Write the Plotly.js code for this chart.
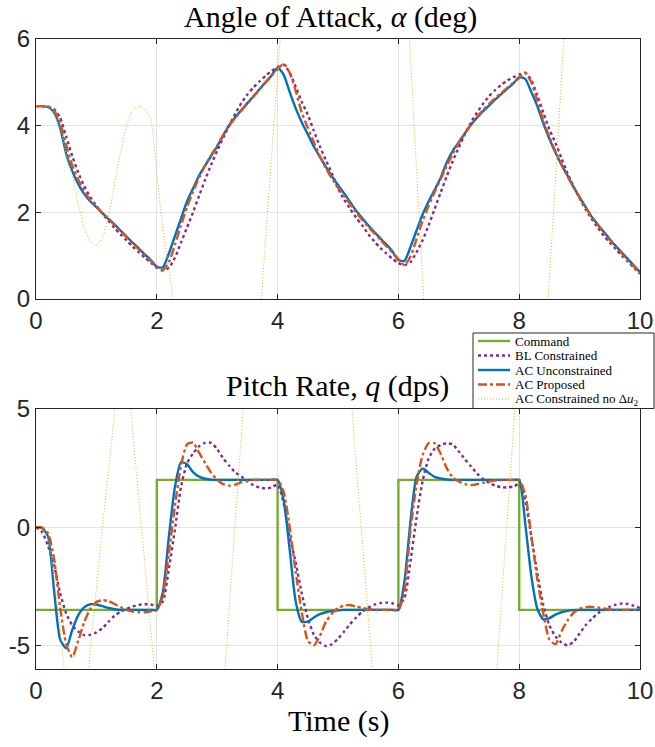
<!DOCTYPE html>
<html>
<head>
<meta charset="utf-8">
<script src="https://cdn.plot.ly/plotly-3.0.1.min.js"></script>
<style>html,body{margin:0;padding:0;background:#fff;}#chart{width:655px;height:747px;}</style>
</head>
<body>
<div id="chart"></div>
<script>
// time grid (s)
const t = [0.0,0.1,0.2,0.3,0.4,0.5,0.6,0.7,0.8,0.9,
1.0,1.1,1.2,1.3,1.4,1.5,1.6,1.7,1.8,1.9,
2.0,2.1,2.2,2.3,2.4,2.5,2.6,2.7,2.8,2.9,
3.0,3.1,3.2,3.3,3.4,3.5,3.6,3.7,3.8,3.9,
4.0,4.1,4.2,4.3,4.4,4.5,4.6,4.7,4.8,4.9,
5.0,5.1,5.2,5.3,5.4,5.5,5.6,5.7,5.8,5.9,
6.0,6.1,6.2,6.3,6.4,6.5,6.6,6.7,6.8,6.9,
7.0,7.1,7.2,7.3,7.4,7.5,7.6,7.7,7.8,7.9,
8.0,8.1,8.2,8.3,8.4,8.5,8.6,8.7,8.8,8.9,
9.0,9.1,9.2,9.3,9.4,9.5,9.6,9.7,9.8,9.9,
10.0];

// Angle of attack (deg)
const alphaBL = [4.45,4.45,4.44,4.38,4.18,3.75,3.30,2.92,2.60,2.35,
2.15,1.97,1.80,1.64,1.49,1.35,1.21,1.08,0.96,0.84,
0.72,0.66,0.72,0.95,1.30,1.65,2.00,2.38,2.75,3.10,
3.42,3.72,4.00,4.28,4.52,4.72,4.88,5.02,5.15,5.26,
5.35,5.41,5.22,4.90,4.55,4.25,3.88,3.52,3.20,2.90,
2.55,2.30,2.08,1.88,1.70,1.50,1.33,1.18,1.05,0.93,
0.83,0.78,0.85,1.08,1.35,1.70,2.08,2.46,2.83,3.18,
3.50,3.80,4.07,4.30,4.50,4.68,4.82,4.94,5.04,5.12,
5.18,5.22,5.05,4.70,4.30,3.92,3.60,3.25,2.90,2.60,
2.32,2.07,1.85,1.65,1.46,1.30,1.15,1.00,0.86,0.72,
0.58];
const alphaACU = [4.45,4.45,4.43,4.30,3.95,3.35,2.95,2.65,2.42,2.25,
2.12,1.98,1.85,1.72,1.58,1.44,1.30,1.17,1.03,0.90,
0.74,0.73,1.05,1.45,1.85,2.25,2.55,2.85,3.08,3.30,
3.52,3.78,4.02,4.20,4.36,4.52,4.68,4.84,5.00,5.16,
5.34,5.18,4.78,4.40,4.08,3.80,3.52,3.28,3.05,2.83,
2.63,2.44,2.24,2.04,1.87,1.70,1.55,1.40,1.26,1.10,
0.90,0.88,1.20,1.58,1.95,2.25,2.52,2.80,3.15,3.42,
3.62,3.82,4.02,4.18,4.33,4.46,4.60,4.72,4.85,4.97,
5.12,5.08,4.78,4.45,4.05,3.70,3.38,3.10,2.85,2.58,
2.35,2.12,1.90,1.72,1.55,1.38,1.22,1.07,0.92,0.77,
0.62];
const alphaACP = [4.45,4.45,4.44,4.35,4.08,3.55,3.08,2.75,2.48,2.28,
2.13,1.98,1.85,1.71,1.57,1.43,1.29,1.15,1.01,0.88,
0.75,0.66,0.85,1.25,1.70,2.12,2.48,2.80,3.08,3.32,
3.54,3.78,4.00,4.18,4.35,4.51,4.67,4.83,4.99,5.15,
5.30,5.43,5.22,4.80,4.30,3.95,3.62,3.30,3.02,2.78,
2.57,2.38,2.19,2.00,1.83,1.67,1.52,1.37,1.22,1.07,
0.92,0.78,0.98,1.38,1.80,2.15,2.47,2.77,3.07,3.35,
3.60,3.82,4.02,4.20,4.36,4.50,4.63,4.75,4.87,4.99,
5.10,5.22,5.00,4.58,4.12,3.74,3.40,3.10,2.83,2.58,
2.34,2.11,1.90,1.71,1.53,1.36,1.20,1.05,0.90,0.75,
0.60];
const alphaNoDu2 = [4.45,4.45,4.42,4.28,3.95,3.35,2.85,2.20,1.65,1.32,
1.23,1.42,1.92,2.65,3.38,4.00,4.35,4.45,4.40,4.15,
2.90,1.62,0.68,-0.30,-1.90,-3.60,-5.30,-6.80,-8.00,-8.70,
-8.90,-8.60,-8.00,-7.00,-5.80,-4.30,-2.50,-0.60,1.35,3.30,
5.20,7.10,9.00,10.8,12.4,13.8,15.0,16.0,16.8,17.4,
17.8,18.0,18.0,17.8,17.4,16.8,16.0,15.0,13.8,12.4,
10.6,8.2,5.6,3.0,0.5,-2.0,-4.4,-6.7,-8.9,-10.9,
-12.7,-14.2,-15.4,-16.3,-16.8,-17.0,-16.8,-16.2,-15.2,-13.8,
-12.0,-9.8,-7.1,-4.4,-1.85,0.45,2.75,5.1,7.4,9.6,
11.7,13.6,15.3,16.8,18.0,19.0,19.7,20.1,20.2,20.0,
19.5];

// Pitch rate (dps)
const cmdT = [0,2,2,4,4,6,6,8,8,10];
const qCmd = [-3.5,-3.5,2,2,-3.5,-3.5,2,2,-3.5,-3.5];
const qBL = [0,-0.2,-0.8,-1.6,-2.8,-3.65,-4.15,-4.42,-4.57,-4.55,
-4.45,-4.28,-4.0,-3.75,-3.57,-3.45,-3.35,-3.29,-3.26,-3.27,
-3.33,-3.15,-1.75,-0.10,1.70,2.70,3.12,3.42,3.57,3.57,
3.30,2.91,2.60,2.32,2.15,1.95,1.78,1.68,1.64,1.68,
1.80,1.00,-0.40,-1.50,-2.80,-3.85,-4.55,-4.88,-5.03,-4.95,
-4.72,-4.42,-4.10,-3.82,-3.58,-3.40,-3.28,-3.21,-3.19,-3.22,
-3.30,-3.00,-1.45,0.40,1.95,2.90,3.32,3.48,3.55,3.50,
3.20,2.88,2.58,2.27,2.05,1.88,1.76,1.69,1.68,1.72,
1.82,1.14,-0.40,-1.95,-3.30,-4.15,-4.62,-4.88,-5.00,-4.85,
-4.50,-4.15,-3.88,-3.65,-3.48,-3.36,-3.28,-3.23,-3.25,-3.33,
-3.42];
const qACU = [0,-0.03,-0.4,-2.7,-4.75,-5.12,-4.35,-3.72,-3.38,-3.26,
-3.27,-3.34,-3.42,-3.47,-3.50,-3.50,-3.50,-3.50,-3.50,-3.50,
-3.50,-2.75,-0.40,1.70,2.75,2.66,2.33,2.14,2.05,2.01,
2.0,2.0,2.0,2.0,2.0,2.0,2.0,2.0,2.0,2.0,
2.0,1.15,-0.95,-3.15,-4.0,-4.0,-3.82,-3.68,-3.60,-3.55,
-3.52,-3.50,-3.50,-3.50,-3.50,-3.50,-3.50,-3.50,-3.50,-3.50,
-3.50,-2.30,0.25,2.13,2.48,2.30,2.13,2.06,2.02,2.0,
2.0,2.0,2.0,2.0,2.0,2.0,2.0,2.0,2.0,2.0,
2.0,0.15,-2.05,-3.45,-3.90,-3.85,-3.70,-3.60,-3.54,-3.51,
-3.50,-3.50,-3.50,-3.50,-3.50,-3.50,-3.50,-3.50,-3.50,-3.50,
-3.50];
const qACP = [0,-0.02,-0.25,-1.35,-3.4,-4.95,-5.5,-4.8,-4.0,-3.45,
-3.16,-3.09,-3.13,-3.25,-3.38,-3.50,-3.57,-3.60,-3.60,-3.56,
-3.50,-2.90,-1.10,0.90,2.60,3.50,3.58,3.15,2.72,2.30,
2.0,1.82,1.76,1.80,1.90,1.96,2.0,2.0,2.0,2.0,
2.0,1.50,0.0,-1.90,-3.60,-4.80,-5.0,-4.60,-4.0,-3.65,
-3.42,-3.32,-3.30,-3.35,-3.42,-3.46,-3.50,-3.50,-3.50,-3.50,
-3.50,-2.70,-0.10,1.80,3.05,3.55,3.55,3.10,2.50,2.10,
1.93,1.82,1.78,1.82,1.88,1.93,1.97,1.99,2.0,2.0,
2.0,1.40,-0.35,-2.20,-3.66,-4.75,-4.95,-4.40,-3.95,-3.62,
-3.45,-3.38,-3.37,-3.40,-3.44,-3.48,-3.50,-3.50,-3.50,-3.50,
-3.50];
const qNoDu2 = [0,-0.05,-0.5,-2.2,-4.3,-6.8,-8.8,-9.6,-8.6,-5.1,
-2.6,0.0,2.4,4.8,7.0,6.6,4.0,1.3,-1.5,-4.3,
-7.1,-10.0,-12.8,-15.0,-16.8,-18.0,-18.5,-18.0,-16.5,-14.0,
-10.8,-7.1,-3.4,0.3,3.9,7.6,11.0,14.0,17.0,19.5,
21.5,23.0,24.0,24.5,24.5,24.0,23.0,21.5,19.5,16.5,
13.5,9.2,6.0,2.7,-0.5,-3.8,-7.0,-10.0,-13.0,-16.0,
-19.0,-21.0,-23.0,-24.5,-25.5,-26.0,-26.0,-25.6,-24.8,-23.5,
-22.0,-20.5,-18.5,-16.3,-13.8,-10.8,-7.1,-3.4,0.3,3.9,
7.6,11.0,14.5,18.0,21.0,24.0,27.0,29.5,31.5,33.0,
34.0,34.5,34.5,34.0,33.0,31.5,29.5,27.0,24.0,20.5,
17.0];

// tick labels
const xTicks = [0,2,4,6,8,10];
const xTickText = ['0','2','4','6','8','10'];
const y1Ticks = [0,2,4,6];
const y1TickText = ['0','2','4','6'];
const y2Ticks = [-5,0,5];
const y2TickText = ['-5','0','5'];

const names = ['Command','BL Constrained','AC Unconstrained','AC Proposed','AC Constrained no &#916;<i>u</i><sub>2</sub>'];
const colors = ['#77AC30','#7E2F8E','#0072BD','#D95319','#EDB120'];
const dashes = ['solid','dot','solid','dashdot','1px,2px'];
const widths = [2.4,2.4,2.4,2.4,1];

function tr(x, y, k, xa, ya, shape){
  return {x:x, y:y, name:names[k], type:'scatter', mode:'lines', xaxis:xa, yaxis:ya,
    showlegend:false, hoverinfo:'skip',
    line:{color:colors[k], width:widths[k], dash:dashes[k], shape:shape||'spline', smoothing:0.6}};
}

const data = [
  tr(t, alphaBL, 1, 'x', 'y'),
  tr(t, alphaACU, 2, 'x', 'y'),
  tr(t, alphaACP, 3, 'x', 'y'),
  tr(t, alphaNoDu2, 4, 'x', 'y'),
  tr(cmdT, qCmd, 0, 'x2', 'y2', 'linear'),
  tr(t, qBL, 1, 'x2', 'y2'),
  tr(t, qACU, 2, 'x2', 'y2'),
  tr(t, qACP, 3, 'x2', 'y2'),
  tr(t, qNoDu2, 4, 'x2', 'y2')
];

const tickFont = {family:'Liberation Sans, Arial, sans-serif', size:24, color:'#262626'};
const serif = 'Liberation Serif, Times New Roman, serif';

function axisBase(){
  return {showline:true, mirror:'ticks', linecolor:'#262626', linewidth:1,
    ticks:'inside', ticklen:5, tickcolor:'#262626', tickwidth:1,
    showgrid:true, gridcolor:'#e3e3e3', gridwidth:1, zeroline:false,
    tickfont:tickFont, tickmode:'array', fixedrange:true};
}

// page-pixel -> paper coordinates (plot area 36..640 x, 39..669 y)
const PL = 36, PW = 604, PB = 669, PH = 630;
const px = v => (v - PL) / PW;
const py = v => (PB - v) / PH;

// custom compact legend (box, samples, labels)
const legendRows = [341, 355.5, 370, 384.5, 399];
const shapes = [{type:'rect', xref:'paper', yref:'paper', x0:px(473), x1:px(654), y0:py(408.5), y1:py(333),
  fillcolor:'#ffffff', line:{color:'#262626', width:1}, layer:'above'}];
const annotations = [
  {text:'Angle of Attack, <i>α</i> (deg)', xref:'paper', yref:'paper', x:px(330), y:py(17),
   xanchor:'center', yanchor:'middle', showarrow:false, font:{family:serif, size:30, color:'#000'}},
  {text:'Pitch Rate, <i>q</i> (dps)', xref:'paper', yref:'paper', x:px(337), y:py(386),
   xanchor:'center', yanchor:'middle', showarrow:false, font:{family:serif, size:30, color:'#000'}},
  {text:'Time (s)', xref:'paper', yref:'paper', x:0.5, y:py(721),
   xanchor:'center', yanchor:'middle', showarrow:false, font:{family:serif, size:30, color:'#000'}}
];
legendRows.forEach((ry, k) => {
  shapes.push({type:'line', xref:'paper', yref:'paper', x0:px(478), x1:px(510), y0:py(ry), y1:py(ry),
    line:{color:colors[k], width:widths[k], dash:dashes[k]}, layer:'above'});
  annotations.push({text:names[k], xref:'paper', yref:'paper', x:px(513), y:py(ry),
    xanchor:'left', yanchor:'middle', showarrow:false,
    font:{family:serif, size:13, color:'#000'}});
});

const layout = {
  width:655, height:747,
  margin:{l:36, r:15, t:39, b:78},
  paper_bgcolor:'#ffffff', plot_bgcolor:'#ffffff',
  showlegend:false,
  xaxis:Object.assign(axisBase(), {domain:[0,1], range:[0,10], anchor:'y', tickvals:xTicks, ticktext:xTickText}),
  yaxis:Object.assign(axisBase(), {domain:[py(299),1], range:[0,6], anchor:'x', tickvals:y1Ticks, ticktext:y1TickText}),
  xaxis2:Object.assign(axisBase(), {domain:[0,1], range:[0,10], anchor:'y2', tickvals:xTicks, ticktext:xTickText}),
  yaxis2:Object.assign(axisBase(), {domain:[0,py(409)], range:[-6,5], anchor:'x2', tickvals:y2Ticks, ticktext:y2TickText}),
  shapes:shapes,
  annotations:annotations
};

Plotly.newPlot('chart', data, layout, {staticPlot:true, displayModeBar:false});
</script>
</body>
</html>
